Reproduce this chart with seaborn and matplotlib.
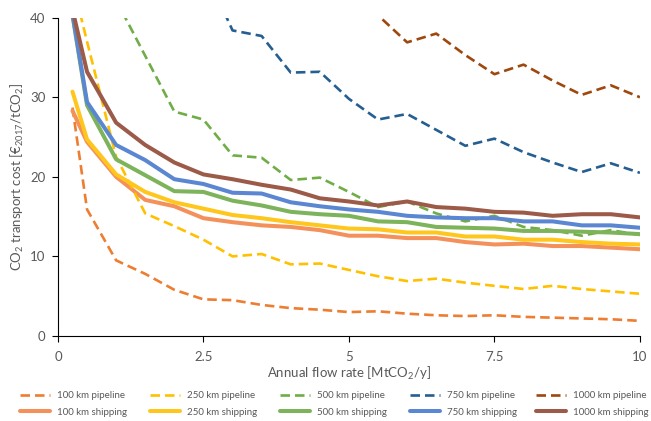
import numpy as np
import pandas as pd
import matplotlib
matplotlib.use("Agg")
import matplotlib.pyplot as plt
import seaborn as sns

# ---------------- data ----------------
flow = [0.25, 0.5, 1, 1.5, 2, 2.5, 3, 3.5, 4, 4.5, 5, 5.5, 6, 6.5, 7, 7.5, 8, 8.5, 9, 9.5, 10]

pipe_100 = [28.7, 15.9, 9.5, 7.8, 5.8, 4.6, 4.5, 3.9, 3.5, 3.3, 3.0, 3.1, 2.8, 2.6, 2.5, 2.6, 2.4, 2.3, 2.2, 2.1, 1.9]
pipe_250 = [44.4, 37.0, 22.5, 15.4, 13.8, 12.1, 10.0, 10.3, 9.0, 9.1, 8.3, 7.5, 6.9, 7.2, 6.7, 6.3, 5.9, 6.3, 5.9, 5.6, 5.3]
pipe_500 = [90.0, 58.0, 42.2, 35.2, 28.2, 27.2, 22.7, 22.4, 19.6, 19.9, 18.1, 16.2, 16.9, 15.4, 14.4, 15.1, 13.7, 13.3, 12.6, 13.3, 12.7]
pipe_750 = [120.0, 90.0, 68.0, 56.0, 50.0, 46.4, 38.4, 37.7, 33.1, 33.2, 29.8, 27.2, 27.9, 25.9, 23.9, 24.8, 23.1, 21.8, 20.6, 21.7, 20.5]
pipe_1000 = [150.0, 110.0, 85.0, 72.0, 64.0, 60.0, 55.0, 53.0, 50.0, 48.0, 44.0, 40.3, 36.9, 38.0, 35.3, 32.9, 34.1, 32.1, 30.3, 31.5, 30.0]

ship_100 = [28.3, 24.4, 20.0, 17.1, 16.3, 14.8, 14.3, 13.9, 13.7, 13.3, 12.6, 12.6, 12.3, 12.3, 11.8, 11.5, 11.6, 11.3, 11.3, 11.1, 10.9]
ship_250 = [30.7, 24.7, 20.3, 18.1, 16.8, 16.0, 15.2, 14.8, 14.3, 13.9, 13.5, 13.4, 13.0, 13.0, 12.5, 12.5, 12.1, 12.1, 11.8, 11.6, 11.5]
ship_500 = [40.3, 29.0, 22.2, 20.2, 18.2, 18.1, 17.0, 16.4, 15.6, 15.3, 15.1, 14.4, 14.3, 13.7, 13.6, 13.5, 13.2, 13.2, 13.1, 13.0, 12.8]
ship_750 = [40.5, 29.4, 24.0, 22.1, 19.7, 19.1, 18.0, 17.9, 16.8, 16.3, 15.9, 15.6, 15.1, 14.9, 14.8, 14.8, 14.4, 14.4, 13.9, 13.9, 13.6]
ship_1000 = [41.0, 33.2, 26.8, 24.0, 21.8, 20.3, 19.7, 19.0, 18.4, 17.3, 16.9, 16.4, 16.9, 16.2, 16.0, 15.6, 15.5, 15.1, 15.3, 15.3, 14.9]

distances = ["100", "250", "500", "750", "1000"]
pipelines = [pipe_100, pipe_250, pipe_500, pipe_750, pipe_1000]
shippings = [ship_100, ship_250, ship_500, ship_750, ship_1000]

x_ticks = [0, 2.5, 5, 7.5, 10]
x_tick_labels = ["0", "2.5", "5", "7.5", "10"]
y_ticks = [0, 10, 20, 30, 40]

pipe_colors = ["#ED7D31", "#FFC000", "#70AD47", "#255E91", "#9E480E"]
ship_colors = ["#F4915A", "#FFC61E", "#7DB35A", "#5B86D2", "#9C5B48"]

# ---------------- style ----------------
sns.set_theme(style="white")
plt.rcParams["font.family"] = ["Lato", "DejaVu Sans"]
plt.rcParams["mathtext.default"] = "regular"

W, H = 651, 421
fig = plt.figure(figsize=(W / 100, H / 100), dpi=100)
ax = fig.add_axes([0.089, 0.202, 0.894, 0.756])

pairs = []
for d, pv, sv, pc, sc in zip(distances, pipelines, shippings, pipe_colors, ship_colors):
    sns.lineplot(x=flow, y=pv, ax=ax, color=pc, lw=1.9, label=f"{d} km pipeline")
    lp = ax.lines[-1]
    lp.set_dashes((3.6, 1.9))
    sns.lineplot(x=flow, y=sv, ax=ax, color=sc, lw=2.9, label=f"{d} km shipping")
    ls = ax.lines[-1]
    pairs.append((lp, ls))

leg = ax.get_legend()
if leg is not None:
    leg.remove()

ax.set_xlim(0, 10)
ax.set_ylim(0, 40)
ax.set_xticks(x_ticks)
ax.set_xticklabels(x_tick_labels)
ax.set_yticks(y_ticks)

for s in ["top", "right"]:
    ax.spines[s].set_visible(False)
for s in ["left", "bottom"]:
    ax.spines[s].set_color("#000000")
    ax.spines[s].set_linewidth(0.8)

ax.tick_params(axis="both", which="major", direction="out", length=4, width=0.8,
               color="#000000", labelsize=9.5, labelcolor="#595959", pad=5, bottom=True, left=True)
ax.tick_params(axis="x", pad=7)

ax.set_xlabel("Annual flow rate [MtCO$_2$/y]", fontsize=9.5, color="#595959", labelpad=1)
ax.set_ylabel("CO$_2$ transport cost [€$_{2017}$/tCO$_2$]", fontsize=9.5, color="#595959", labelpad=3)

# legend: five columns, each a separate legend placed at its own x position
col_x = [20, 150, 280, 410, 536]
y_center = 1 - 404 / H
for (lp, ls), cx in zip(pairs, col_x):
    fig.legend(handles=[lp, ls], labels=[lp.get_label(), ls.get_label()],
               loc="center left", bbox_to_anchor=(cx / W, y_center),
               frameon=False, fontsize=7.0, handlelength=3.1, handletextpad=0.7,
               labelcolor="#595959", borderpad=0, borderaxespad=0, labelspacing=0.8)

fig.savefig("out.png", dpi=100)
